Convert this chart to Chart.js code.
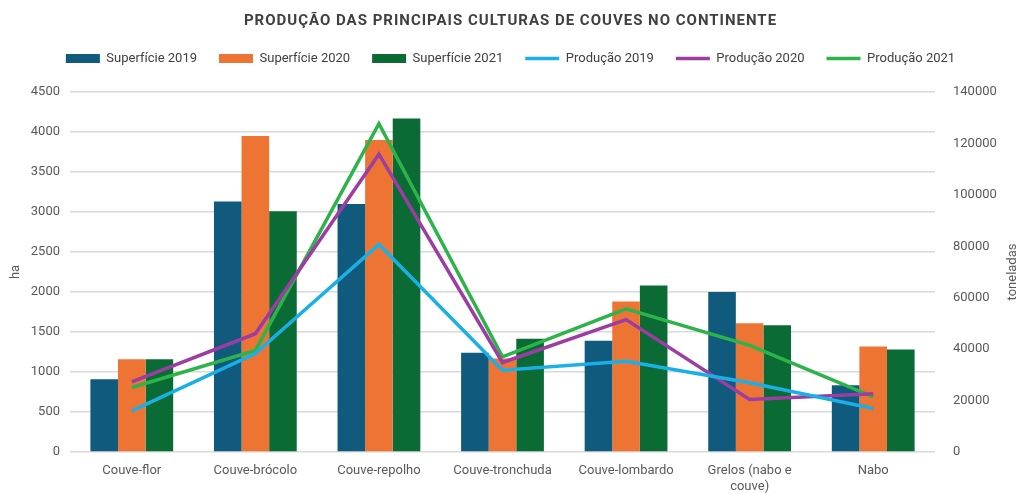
<!DOCTYPE html>
<html>
<head>
<meta charset="utf-8">
<script src="https://cdn.jsdelivr.net/npm/chart.js@4"></script>
<style>
  html, body { margin: 0; padding: 0; background: #fff; }
  #wrap { width: 1017px; height: 493px; }
</style>
</head>
<body>
<div id="wrap"><canvas id="couvesChart"></canvas></div>
<script>
const categories = ['Couve-flor', 'Couve-brócolo', 'Couve-repolho', 'Couve-tronchuda', 'Couve-lombardo', ['Grelos (nabo e', 'couve)'], 'Nabo'];

// superfície (ha)
const sup2019 = [910, 3130, 3100, 1240, 1390, 2000, 835];
const sup2020 = [1160, 3950, 3900, 1170, 1880, 1610, 1320];
const sup2021 = [1160, 3010, 4170, 1415, 2080, 1585, 1280];

// produção (toneladas)
const prod2019 = [16000, 38300, 80700, 31800, 35300, 26900, 16900];
const prod2020 = [27300, 46000, 115800, 34800, 51500, 20400, 22700];
const prod2021 = [25100, 39500, 127700, 37000, 55700, 41500, 21400];

const tickColor = '#595959';
const fontFamily = 'Roboto, "Open Sans", sans-serif';

const barSet = (label, data, color) => ({
    type: 'bar', label, data, backgroundColor: color, yAxisID: 'y', order: 2,
    pointStyle: 'rect',
});
const lineSet = (label, data, color) => ({
    type: 'line', label, data, borderColor: color, backgroundColor: color,
    borderWidth: 3.5, pointRadius: 0, tension: 0, yAxisID: 'y1', order: 1,
    pointStyle: 'line',
});

// spacing tweaks: letter-spaced title, extra room under the legend, right axis title read bottom-up
const layoutTweaks = {
    id: 'layoutTweaks',
    afterInit(chart) {
        const legend = chart.legend;
        const fit = legend.fit.bind(legend);
        legend.fit = function () { fit(); this.height += 17; };
        const tb = chart.titleBlock;
        const draw = tb.draw.bind(tb);
        tb.draw = function () {
            chart.ctx.save();
            chart.ctx.letterSpacing = '1px';
            draw();
            chart.ctx.restore();
        };
    },
    afterDraw(chart) {
        const { ctx, chartArea } = chart;
        ctx.save();
        ctx.translate(chart.width + 2, (chartArea.top + chartArea.bottom) / 2);
        ctx.rotate(-Math.PI / 2);
        ctx.textAlign = 'center';
        ctx.textBaseline = 'bottom';
        ctx.fillStyle = tickColor;
        ctx.font = '13px ' + fontFamily;
        ctx.fillText('toneladas', 0, 0);
        ctx.restore();
    },
};

new Chart(document.getElementById('couvesChart'), {
    type: 'bar',
    data: {
        labels: categories,
        datasets: [
            barSet('Superfície 2019', sup2019, '#105a7e'),
            barSet('Superfície 2020', sup2020, '#ee7434'),
            barSet('Superfície 2021', sup2021, '#0b6b34'),
            lineSet('Produção 2019', prod2019, '#1ab0e6'),
            lineSet('Produção 2020', prod2020, '#9c3da3'),
            lineSet('Produção 2021', prod2021, '#2eb34b'),
        ],
    },
    plugins: [layoutTweaks],
    options: {
        responsive: true,
        maintainAspectRatio: false,
        animation: false,
        layout: { padding: { top: 5, bottom: 0, left: 4, right: 0 } },
        datasets: { bar: { barPercentage: 1.0, categoryPercentage: 0.67 } },
        plugins: {
            title: {
                display: true,
                text: 'PRODUÇÃO DAS PRINCIPAIS CULTURAS DE COUVES NO CONTINENTE',
                color: '#404040',
                font: { family: fontFamily, size: 15, weight: 'bold' },
                padding: { top: 7, bottom: 0 },
            },
            legend: {
                position: 'top',
                labels: {
                    usePointStyle: true,
                    pointStyleWidth: 34,
                    boxHeight: 9,
                    padding: 22,
                    color: '#404040',
                    font: { family: fontFamily, size: 13 },
                    sort: (a, b) => a.datasetIndex - b.datasetIndex,
                },
            },
            tooltip: { enabled: false },
        },
        scales: {
            x: {
                grid: { display: false },
                border: { display: false },
                ticks: { color: tickColor, font: { family: fontFamily, size: 13 }, maxRotation: 0, autoSkip: false },
                afterFit: (s) => { s.height = 41; },
            },
            y: {
                position: 'left',
                min: 0, max: 4500,
                ticks: { stepSize: 500, color: tickColor, font: { family: fontFamily, size: 13 }, padding: 10, callback: (v) => String(v) },
                grid: { color: '#d9d9d9', lineWidth: 1.5, drawTicks: false },
                border: { display: false },
                title: { display: true, text: 'ha', color: tickColor, font: { family: fontFamily, size: 13 } },
                afterFit: (s) => { s.width = 66; },
            },
            y1: {
                position: 'right',
                min: 0, max: 140000,
                ticks: { stepSize: 20000, color: tickColor, font: { family: fontFamily, size: 13 }, padding: 18, callback: (v) => String(v) },
                grid: { display: false, drawTicks: false },
                border: { display: false },
                afterFit: (s) => { s.width = 82; },
            },
        },
    },
});
</script>
</body>
</html>
